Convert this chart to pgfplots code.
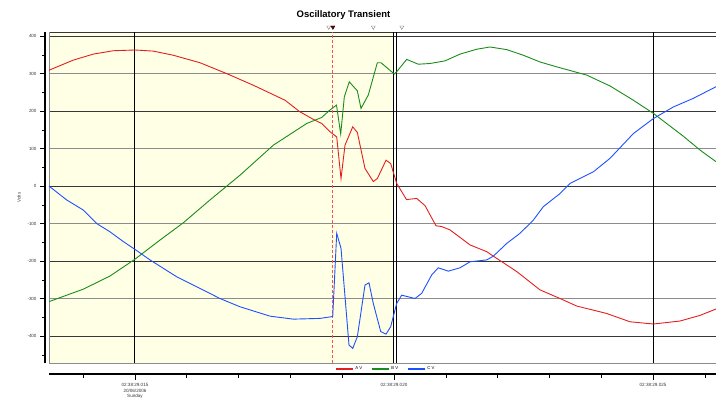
\documentclass[border=0pt]{standalone}
\usepackage{pgfplots}
\pgfplotsset{compat=1.18}
\usepackage{pgfplotstable}
\usepackage{fontspec}
\setmainfont{Liberation Sans}
\definecolor{cA}{RGB}{228,30,30}
\definecolor{cB}{RGB}{25,140,25}
\definecolor{cC}{RGB}{30,80,255}
\definecolor{bgshade}{RGB}{255,255,230}
\definecolor{gridA}{RGB}{55,55,55}
\definecolor{gridB}{RGB}{140,140,140}
\definecolor{cur}{RGB}{255,80,80}

\pgfplotstableread{
t V
13.340 309
13.809 336
14.195 352
14.581 361
15.000 363
15.353 360
15.739 349
16.255 329
16.770 300
17.284 269
17.896 229
18.185 198
18.442 178
18.604 167
18.764 145
18.894 131
18.977 20
19.054 109
19.203 158
19.292 143
19.440 47
19.600 12
19.678 20
19.846 69
19.936 60
20.052 7
20.241 -36
20.438 -33
20.598 -52
20.811 -106
20.921 -108
21.081 -117
21.467 -157
21.790 -175
21.983 -193
22.369 -228
22.819 -277
23.205 -300
23.527 -320
24.107 -340
24.556 -362
25.006 -368
25.521 -360
25.907 -345
26.216 -328
}\seriesA

\pgfplotstableread{
t V
13.346 -308
14.002 -275
14.517 -240
15.000 -195
15.483 -144
15.932 -98
16.448 -37
17.027 29
17.670 109
18.315 167
18.604 183
18.764 203
18.890 216
18.971 139
19.041 238
19.137 278
19.292 254
19.363 207
19.504 243
19.678 329
19.749 329
20.006 299
20.052 305
20.245 338
20.469 325
20.695 327
20.985 334
21.274 352
21.596 365
21.853 371
22.176 364
22.496 349
22.819 331
23.141 318
23.720 296
24.170 267
24.620 229
25.006 194
25.585 133
25.907 96
26.216 65
}\seriesB

\pgfplotstableread{
t V
13.340 0
13.681 -37
14.002 -64
14.261 -100
14.517 -122
14.774 -148
15.000 -169
15.290 -197
15.805 -242
16.125 -264
16.641 -300
17.027 -322
17.606 -347
18.056 -355
18.571 -353
18.817 -348
18.894 -126
18.977 -166
19.131 -424
19.203 -433
19.292 -402
19.440 -264
19.517 -258
19.600 -313
19.743 -388
19.846 -395
19.936 -375
20.052 -313
20.149 -291
20.405 -300
20.535 -286
20.728 -237
20.855 -218
21.048 -227
21.274 -218
21.467 -202
21.790 -197
21.917 -187
22.176 -153
22.432 -126
22.689 -91
22.882 -55
23.205 -20
23.398 7
23.527 16
23.848 38
24.170 74
24.620 140
25.006 180
25.392 211
25.778 234
26.216 265
}\seriesC

\begin{document}
\begin{tikzpicture}[x=1bp,y=1bp]
\useasboundingbox (0,0) rectangle (716,397);
\node[font=\fontsize{9.5}{11}\selectfont\bfseries] at (343.5,382) {Oscillatory Transient};

% left y axis
\begin{axis}[at={(45bp,34bp)}, anchor=south west, width=10bp, height=331bp, scale only axis,
  xmin=0, xmax=1, ymin=-472, ymax=411,
  axis x line=none, axis y line*=left,
  y axis line style={line width=2.4bp, black},
  ytick={-400,-300,...,400}, minor ytick={-450,-350,...,350},
  tick align=outside, major tick length=5bp, minor tick length=3bp,
  every tick/.style={black, line width=0.5bp},
  yticklabel style={font=\fontsize{4.5}{5}\selectfont, text=gridA},
  /pgf/number format/assume math mode=true,
  ylabel={Volts}, ylabel style={font=\fontsize{4.5}{5}\selectfont, text=gridA},
]
\end{axis}

% main plot area
\begin{axis}[at={(49bp,34bp)}, anchor=south west, width=667bp, height=331bp, scale only axis,
  xmin=13.34, xmax=26.216, ymin=-472, ymax=411, clip=false,
  axis lines=none, xtick=\empty, ytick=\empty,
  legend columns=3,
  legend style={at={(rel axis cs:0.505,-0.018)}, anchor=center, draw=none, fill=none,
    font=\fontsize{4.3}{5}\selectfont, inner sep=0pt,
    /tikz/every even column/.append style={column sep=7bp}},
  legend image code/.code={\draw[#1, line width=1.1bp] (0bp,0bp) -- (17bp,0bp);},
]
\fill[bgshade] (axis cs:13.34,-472) rectangle (axis cs:20.0,411);
\draw[gridA, line width=0.8bp] (axis cs:13.34,400) -- (axis cs:26.216,400);
\draw[gridA, line width=0.8bp] (axis cs:13.34,200) -- (axis cs:26.216,200);
\draw[gridA, line width=0.8bp] (axis cs:13.34,0) -- (axis cs:26.216,0);
\draw[gridA, line width=0.8bp] (axis cs:13.34,-200) -- (axis cs:26.216,-200);
\draw[gridA, line width=0.8bp] (axis cs:13.34,-400) -- (axis cs:26.216,-400);
\draw[gridB, line width=1.3bp] (axis cs:13.34,300) -- (axis cs:26.216,300);
\draw[gridB, line width=1.3bp] (axis cs:13.34,100) -- (axis cs:26.216,100);
\draw[gridB, line width=1.3bp] (axis cs:13.34,-100) -- (axis cs:26.216,-100);
\draw[gridB, line width=1.3bp] (axis cs:13.34,-300) -- (axis cs:26.216,-300);
\draw[gridA, line width=0.8bp] (axis cs:13.34,411) -- (axis cs:26.216,411);
\draw[gridB, line width=0.9bp] (axis cs:13.34,-472) -- (axis cs:26.216,-472);
\draw[gridB, line width=0.9bp] (axis cs:13.34,-472) -- (axis cs:13.34,411);
\draw[black, line width=1.0bp] (axis cs:15,-472) -- (axis cs:15,411);
\draw[black, line width=1.0bp] (axis cs:25,-472) -- (axis cs:25,411);
\draw[black, line width=0.7bp] (axis cs:19.99,-472) -- (axis cs:19.99,411);
\draw[black, line width=0.7bp] (axis cs:20.045,-472) -- (axis cs:20.045,411);
\draw[cur, line width=1.1bp, dash pattern=on 3bp off 2bp] (axis cs:18.82,-472) -- (axis cs:18.82,411);
\addplot[draw=cA, line width=0.9bp] table[x=t,y=V] {\seriesA};
\addlegendentry{A V}
\addplot[draw=cB, line width=0.9bp] table[x=t,y=V] {\seriesB};
\addlegendentry{B V}
\addplot[draw=cC, line width=0.9bp] table[x=t,y=V] {\seriesC};
\addlegendentry{C V}
\addplot[forget plot, only marks, mark=triangle*, mark size=2.3bp, mark options={rotate=180, draw=gray, fill=white, line width=0.4bp}] coordinates {(18.74,424) (19.60,424) (20.15,424)};
\addplot[forget plot, only marks, mark=triangle*, mark size=2.3bp, mark options={rotate=180, draw=black, fill=red!50!black}] coordinates {(18.82,424)};
\end{axis}

% bottom time axis
\begin{axis}[at={(49bp,23bp)}, anchor=south west, width=667bp, height=5bp, scale only axis,
  xmin=13.34, xmax=26.216, ymin=0, ymax=1,
  axis y line=none, axis x line*=bottom,
  x axis line style={line width=1.8bp, black},
  xtick={15,20,25},
  xticklabels={{02:38:29.015\\20/06/2006\\Sunday},{02:38:29.020},{02:38:29.025}},
  minor xtick={14,16,17,18,19,21,22,23,24,26},
  tick align=outside, major tick length=6bp, minor tick length=4bp,
  every tick/.style={black, line width=0.6bp},
  xticklabel style={font=\fontsize{4.6}{5.4}\selectfont, align=center, text=gridA},
]
\end{axis}
\end{tikzpicture}
\end{document}
